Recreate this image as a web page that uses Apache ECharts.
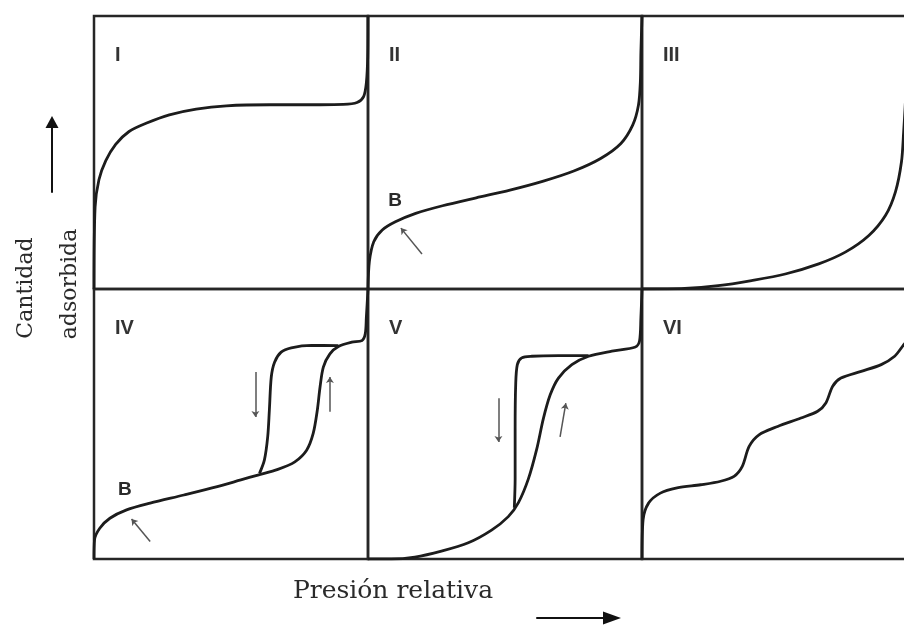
<!DOCTYPE html>
<html>
<head>
<meta charset="utf-8">
<script src="https://cdn.jsdelivr.net/npm/echarts@6/dist/echarts.min.js"></script>
<style>
html,body{margin:0;padding:0;background:#fff;}
#paint{width:904px;height:628px;}
</style>
</head>
<body>
<div id="paint"></div>
<script>
// isotermas de adsorcion tipo I-VI, valores normalizados (presion relativa 0-1, cantidad 0-1)
var panelNames = ['I', 'II', 'III', 'IV', 'V', 'VI'];

var typeI = [[0,0],[0.004,0.30],[0.018,0.40],[0.043,0.47],[0.079,0.53],[0.128,0.577],[0.19,0.607],[0.275,0.638],[0.373,0.659],[0.483,0.671],[0.642,0.675],[0.825,0.675],[0.91,0.676],[0.96,0.683],[0.984,0.705],[0.994,0.755],[0.999,0.853],[1,1]];
var typeII = [[0,0],[0.005,0.10],[0.021,0.173],[0.052,0.216],[0.10,0.246],[0.174,0.277],[0.272,0.305],[0.395,0.334],[0.518,0.362],[0.64,0.395],[0.751,0.432],[0.849,0.478],[0.923,0.533],[0.966,0.60],[0.987,0.673],[0.994,0.759],[0.996,0.868],[1,1]];
var typeIII = [[0,0],[0.156,0.002],[0.278,0.012],[0.40,0.031],[0.523,0.055],[0.645,0.092],[0.742,0.135],[0.828,0.196],[0.889,0.27],[0.925,0.356],[0.947,0.466],[0.955,0.577],[0.962,0.70],[0.967,0.85],[0.97,1]];
var typeIVads = [[0,0],[0.002,0.071],[0.021,0.114],[0.058,0.151],[0.119,0.182],[0.205,0.207],[0.328,0.237],[0.45,0.268],[0.536,0.293],[0.598,0.311],[0.671,0.332],[0.733,0.36],[0.776,0.403],[0.80,0.465],[0.815,0.551],[0.825,0.637],[0.837,0.711],[0.861,0.76],[0.892,0.787],[0.941,0.803],[0.978,0.809],[0.99,0.834],[0.994,0.895],[1,1]];
var typeIVdes = [[0.892,0.79],[0.794,0.791],[0.72,0.782],[0.683,0.766],[0.659,0.729],[0.647,0.674],[0.64,0.551],[0.634,0.453],[0.622,0.367],[0.604,0.317]];
var typeVads = [[0,0],[0.085,0],[0.171,0.007],[0.268,0.029],[0.366,0.06],[0.451,0.107],[0.512,0.157],[0.549,0.209],[0.585,0.296],[0.616,0.408],[0.64,0.52],[0.665,0.608],[0.695,0.67],[0.744,0.72],[0.805,0.751],[0.89,0.77],[0.976,0.785],[0.991,0.807],[0.996,0.894],[1,1]];
var typeVdes = [[0.805,0.753],[0.695,0.753],[0.598,0.751],[0.561,0.745],[0.545,0.72],[0.539,0.645],[0.537,0.483],[0.537,0.296],[0.534,0.19]];
var typeVI = [[0,0],[0.004,0.146],[0.024,0.207],[0.067,0.244],[0.128,0.263],[0.214,0.275],[0.287,0.288],[0.336,0.306],[0.366,0.343],[0.391,0.417],[0.427,0.46],[0.495,0.491],[0.58,0.522],[0.641,0.547],[0.671,0.578],[0.696,0.64],[0.726,0.67],[0.8,0.695],[0.873,0.72],[0.922,0.751],[0.951,0.788],[0.975,0.82],[1,0.86]];

// punto B y flechitas (cola -> punta)
var pointB_II = [[0.099,0.322]];
var pointB_IV = [[0.113,0.256]];
var arrowsII = [[[0.197,0.128],[0.12,0.223]]];
var arrowsIV = [[[0.205,0.065],[0.137,0.148]],[[0.589,0.693],[0.589,0.526]],[[0.861,0.545],[0.861,0.674]]];
var arrowsV = [[[0.476,0.595],[0.476,0.433]],[[0.701,0.452],[0.722,0.577]]];

var colLeft = [94, 368, 642], colWidth = 274;
var rowTop = [16, 289], rowHeight = [273, 270];

var chart = echarts.init(document.getElementById('paint'));

var grids = [], xAxes = [], yAxes = [], graphics = [];
for (var i = 0; i < 6; i++) {
    var c = i % 3, r = Math.floor(i / 3);
    grids.push({
        left: colLeft[c], top: rowTop[r], width: colWidth, height: rowHeight[r],
        outerBoundsMode: 'none',
        show: true, borderColor: '#262626', borderWidth: 2.5, backgroundColor: 'transparent'
    });
    xAxes.push({gridIndex: i, type: 'value', min: 0, max: 1, show: false});
    yAxes.push({gridIndex: i, type: 'value', min: 0, max: 1, show: false});
    graphics.push({
        type: 'text', left: colLeft[c] + 21, top: rowTop[r] + 29,
        style: {text: panelNames[i], font: 'bold 20px "Liberation Sans", Arial, sans-serif', fill: '#333'}
    });
}

// flechas de los ejes
grids.push({left: 52, top: 122, width: 1, height: 70, outerBoundsMode: 'none'});
xAxes.push({gridIndex: 6, type: 'value', show: false});
yAxes.push({gridIndex: 6, type: 'value', show: true, position: 'left',
    axisLine: {show: true, symbol: ['none', 'triangle'], symbolSize: [13, 12], lineStyle: {color: '#111', width: 2}},
    axisTick: {show: false}, axisLabel: {show: false}, splitLine: {show: false}});
grids.push({left: 537, top: 608, width: 75, height: 10, outerBoundsMode: 'none'});
xAxes.push({gridIndex: 7, type: 'value', show: true, position: 'bottom',
    axisLine: {show: true, symbol: ['none', 'triangle'], symbolSize: [13, 18], lineStyle: {color: '#111', width: 2}},
    axisTick: {show: false}, axisLabel: {show: false}, splitLine: {show: false}});
yAxes.push({gridIndex: 7, type: 'value', show: false});

graphics.push({type: 'text', x: 26, y: 288, rotation: Math.PI / 2,
    style: {text: 'Cantidad', font: '22px "DejaVu Serif", serif', fill: '#2a2a2a', align: 'center', verticalAlign: 'middle'}});
graphics.push({type: 'text', x: 70, y: 284, rotation: Math.PI / 2,
    style: {text: 'adsorbida', font: '22px "DejaVu Serif", serif', fill: '#2a2a2a', align: 'center', verticalAlign: 'middle'}});
graphics.push({type: 'text', x: 393, y: 591,
    style: {text: 'Presión relativa', font: '25px "DejaVu Serif", serif', fill: '#2a2a2a', align: 'center', verticalAlign: 'middle'}});

function curve(idx, data) {
    return {type: 'line', xAxisIndex: idx, yAxisIndex: idx, data: data, showSymbol: false, smooth: 0.3,
        lineStyle: {color: '#1c1c1c', width: 2.8}, silent: true};
}
function arrows(idx, list) {
    return {type: 'lines', coordinateSystem: 'cartesian2d', xAxisIndex: idx, yAxisIndex: idx,
        data: list.map(function (a) { return {coords: a}; }),
        symbol: ['none', 'arrow'], symbolSize: 6,
        lineStyle: {color: '#555', width: 1.5, curveness: 0, opacity: 1}, silent: true};
}
function labelB(idx, data) {
    return {type: 'scatter', xAxisIndex: idx, yAxisIndex: idx, data: data, symbolSize: 0,
        itemStyle: {color: 'transparent'}, silent: true,
        label: {show: true, position: 'inside', formatter: 'B', fontFamily: '"Liberation Sans", Arial, sans-serif',
            fontWeight: 'bold', fontSize: 19, color: '#2a2a2a', opacity: 1, textBorderWidth: 0}};
}

option = {
    backgroundColor: '#fff',
    animation: false,
    grid: grids,
    xAxis: xAxes,
    yAxis: yAxes,
    graphic: graphics,
    series: [
        curve(0, typeI),
        curve(1, typeII), labelB(1, pointB_II), arrows(1, arrowsII),
        curve(2, typeIII),
        curve(3, typeIVads), curve(3, typeIVdes), labelB(3, pointB_IV), arrows(3, arrowsIV),
        curve(4, typeVads), curve(4, typeVdes), arrows(4, arrowsV),
        curve(5, typeVI)
    ]
};

chart.setOption(option);
</script>
</body>
</html>
